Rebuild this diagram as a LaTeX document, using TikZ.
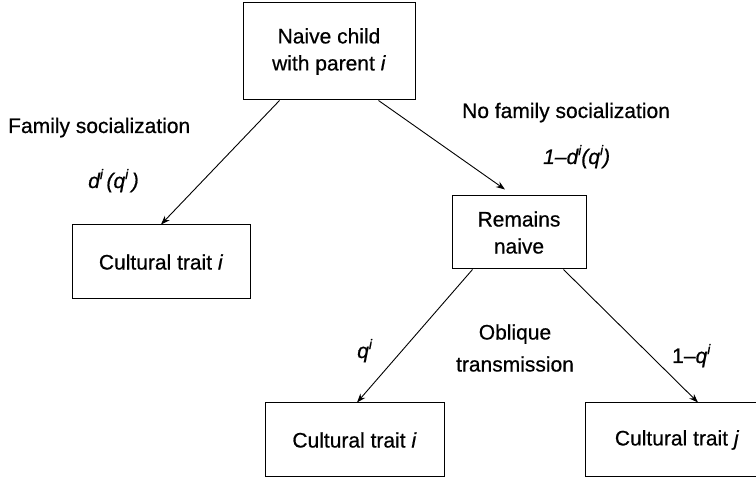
\documentclass[tikz,border=0pt]{standalone}
\usepackage{fontspec}
\setmainfont[FakeBold=0.6]{Liberation Sans}
\usetikzlibrary{arrows.meta,positioning}
\newcommand{\supi}{\raisebox{0.42em}{\fontsize{14}{14}\selectfont\itshape i}}
\tikzset{
    %Define standard arrow tip
    >={Stealth[length=9pt,width=6.5pt]},
    %Define style for boxes
    box/.style={
           rectangle,
           draw=black, line width=1pt,
           font=\fontsize{21}{27}\selectfont,
           align=center},
    trait/.style={
           box,
           minimum width=179pt,
           minimum height=74pt},
    % Define style for edge labels
    lbl/.style={
           font=\fontsize{21}{27}\selectfont,
           inner sep=0pt},
    % Define arrow style
    pil/.style={
           ->,
           line width=0.9pt}
}
\begin{document}
\begin{tikzpicture}[x=1pt,y=-1pt]
\useasboundingbox (0,0) rectangle (756,478);
 %nodes
\node[box, minimum width=172pt, minimum height=97pt](child) at (329,51.5){Naive child\\ with parent \textit{i}};
\node[trait, minimum width=178pt](famtrait) at (161,262){Cultural trait \textit{i}};
\node[box, minimum width=134pt, minimum height=73pt](naive) at (519,232.5){Remains\\ naive};
\node[trait](obltrait) at (354.5,440){Cultural trait \textit{i}};
\node[trait, minimum width=184pt](othertrait) at (677,440){Cultural trait \textit{j}};
 %labels
\node[lbl, anchor=base west](famsoc) at (8,133){Family socialization};
\node[lbl, anchor=base west](famprob) at (88,188){\itshape d\supi\,(q\supi\,)};
\node[lbl, anchor=base west](nofamsoc) at (462,118){No family socialization};
\node[lbl, anchor=base west](nofamprob) at (543,164){\itshape 1--d\supi(q\supi)};
\node[lbl, anchor=base west](qi) at (357,358){\itshape q\supi};
\node[lbl, align=center, font=\fontsize{21}{32}\selectfont](oblique) at (515,348){Oblique\\ transmission};
\node[lbl, anchor=base west](qj) at (672,363){1--\textit{q}\supi};
 %arrows
\draw[pil] ([xshift=37pt]child.south west) -- (famtrait.north);
\draw[pil] ([xshift=-37pt]child.south east) -- ([xshift=-14pt,yshift=6pt]naive.north);
\draw[pil] ([xshift=21pt]naive.south west) -- ([xshift=2.5pt]obltrait.north);
\draw[pil] ([xshift=-23pt]naive.south east) -- ([xshift=21pt]othertrait.north);
\end{tikzpicture}
\end{document}
